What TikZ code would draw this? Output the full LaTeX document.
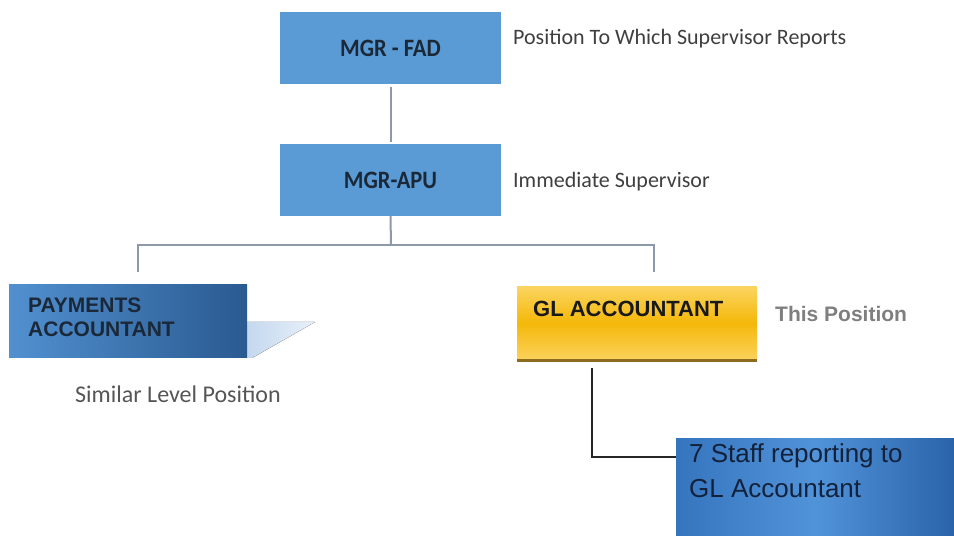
\documentclass[tikz,border=0pt]{standalone}
\usepackage{fontspec}
\setmainfont{Liberation Sans}
\newfontfamily\carlito{Carlito}
\newfontfamily\carlitonarrow[FakeStretch=0.9]{Carlito}

\definecolor{boxblue}{HTML}{5B9BD5}
\definecolor{linegrey}{HTML}{8D99AA}
\definecolor{navytext}{HTML}{1B2838}
\definecolor{labelgrey}{HTML}{3F3F3F}
\definecolor{softgrey}{HTML}{555555}
\definecolor{posgrey}{HTML}{7F7F7F}
\definecolor{payleft}{HTML}{5190D0}
\definecolor{payright}{HTML}{2A5A90}
\definecolor{shadeA}{HTML}{C4D8EE}
\definecolor{shadeB}{HTML}{E8F0F9}
\definecolor{goldtop}{HTML}{FBD45F}
\definecolor{goldmid}{HTML}{F5B80A}
\definecolor{goldbot}{HTML}{FBD15A}
\definecolor{goldedge}{HTML}{8C6C1C}
\definecolor{staffleft}{HTML}{3575BE}
\definecolor{staffmid}{HTML}{5193D9}
\definecolor{staffright}{HTML}{2A63A9}
\definecolor{stafftext}{HTML}{13223A}

\begin{document}
\begin{tikzpicture}[x=1pt,y=-1pt,
  topbox/.style={fill=boxblue, draw=none, minimum width=221pt, minimum height=72pt,
    inner sep=0pt, outer sep=0pt, anchor=north west, text=navytext,
    font=\carlitonarrow\bfseries\fontsize{25}{29}\selectfont},
  conn/.style={draw=linegrey, line width=2pt},
  blackconn/.style={draw=black!85, line width=1.5pt},
  caption/.style={anchor=base west, inner sep=0pt, text=labelgrey,
    font=\carlito\fontsize{22}{26}\selectfont},
  boldtext/.style={anchor=base west, inner sep=0pt,
    font=\bfseries\fontsize{21}{24}\selectfont},
  stafftxt/.style={anchor=base west, inner sep=0pt, text=stafftext,
    font=\fontsize{26}{30}\selectfont},
  paybox/.style={draw=none, left color=payleft, right color=payright,
    minimum width=238pt, minimum height=73pt, inner sep=0pt, outer sep=0pt, anchor=north west},
  glbox/.style={draw=none, top color=goldtop, bottom color=goldbot, middle color=goldmid,
    minimum width=240pt, minimum height=72pt, inner sep=0pt, outer sep=0pt, anchor=north west},
  staffbox/.style={draw=none, left color=staffleft, right color=staffright, middle color=staffmid,
    minimum width=278pt, minimum height=96pt, inner sep=0pt, outer sep=0pt, anchor=north west}
]
\useasboundingbox (0,0) rectangle (954,537);

% upper management chain
\node[topbox] (fad) at (280,12) {MGR - FAD};
\node[topbox] (apu) at (280,144) {MGR-APU};
\draw[conn, shorten <=3pt, shorten >=2pt] (fad.south) -- (apu.north);

\node[caption] (fadlbl) at (513,45) {Position To Which Supervisor Reports};
\node[caption] (apulbl) at (513,188) {Immediate Supervisor};

% branch to the two accountant positions
\coordinate (bus) at (391,245);
\coordinate (dropL) at (138,272);
\coordinate (dropR) at (654,272);
\draw[conn] (apu.south) -- (bus);
\draw[conn] (dropL) |- (bus) -| (dropR);

% payments accountant with its slanted shadow
\fill[left color=shadeA, right color=shadeB] (247,322) -- (315,322) -- (252,358) -- (247,358) -- cycle;
\node[paybox] (pay) at (9,285) {};
\node[boldtext, text=navytext] (pay1) at (28,313) {PAYMENTS};
\node[boldtext, text=navytext] (pay2) at (28,337) {ACCOUNTANT};
\node[caption, text=softgrey, font=\carlito\fontsize{24}{28}\selectfont] (simlbl) at (75,403) {Similar Level Position};

% GL accountant
\node[glbox] (gl) at (517,287) {};
\draw[goldedge, line width=3pt] ([yshift=-1.5pt]gl.south west) -- ([yshift=-1.5pt]gl.south east);
\node[boldtext, text=black!90, font=\bfseries\fontsize{22}{26}\selectfont] (gltxt) at (533,317) {GL ACCOUNTANT};
\node[boldtext, text=posgrey] (thislbl) at (775,322) {This Position};

% staff reporting to the GL accountant
\node[staffbox] (staff) at (676,439) {};
\draw[blackconn] ([xshift=-45pt,yshift=-9pt]gl.south) |- ([yshift=-18pt]staff.north west);
\node[stafftxt] (staff1) at (689,462) {7 Staff reporting to};
\node[stafftxt] (staff2) at (689,497) {GL Accountant};
\end{tikzpicture}
\end{document}
